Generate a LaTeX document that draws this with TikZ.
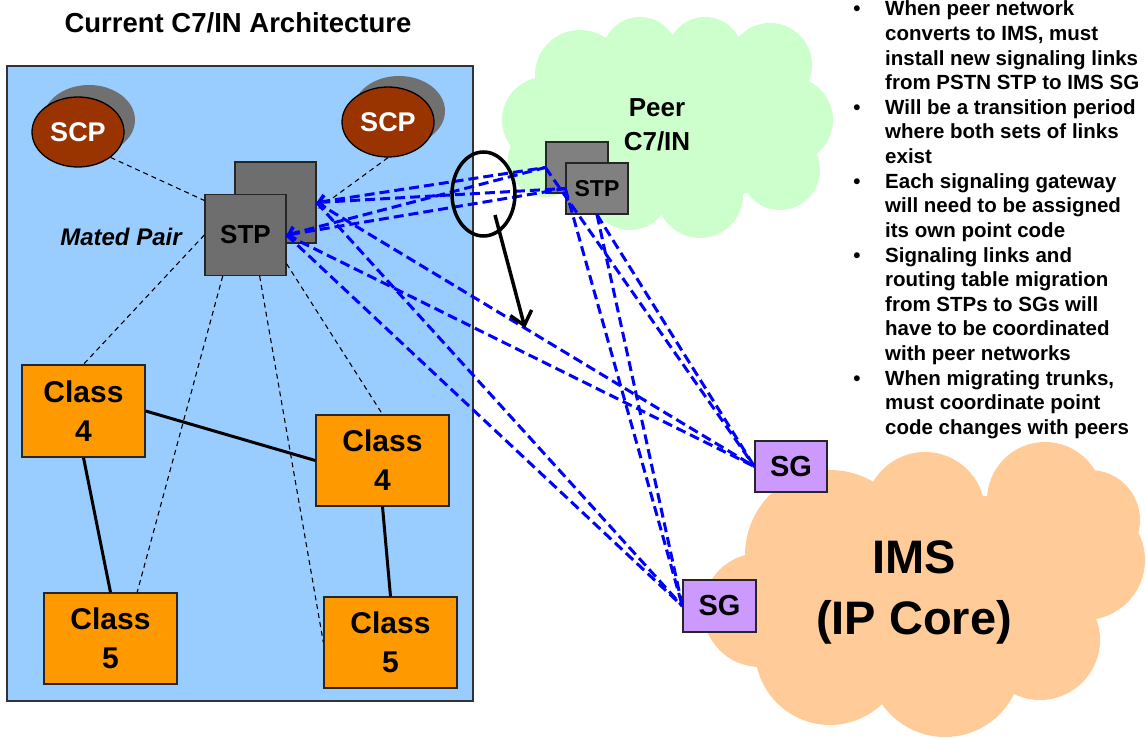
\documentclass[tikz,border=0pt]{standalone}
\usepackage{fontspec}
\setmainfont{Liberation Sans}
\usetikzlibrary{arrows.meta,shapes.geometric}
\definecolor{rectC}{HTML}{99CCFF}
\definecolor{orangeC}{HTML}{FF9900}
\definecolor{scpC}{HTML}{993300}
\definecolor{shadowC}{HTML}{707070}
\definecolor{stpC}{HTML}{6E6E6E}
\definecolor{peerstpC}{HTML}{808080}
\definecolor{sgC}{HTML}{CC99FF}
\definecolor{peerC}{HTML}{CCFFCC}
\definecolor{imsC}{HTML}{FFCC99}
\definecolor{sigC}{HTML}{0000FF}
\begin{document}
\begin{tikzpicture}[x=1pt,y=-1pt,
  box/.style={draw=black!85, line width=1.3pt, inner sep=0pt},
  stpbox/.style={box, fill=stpC, minimum width=81pt, minimum height=81pt, font=\bfseries\fontsize{26}{30}\selectfont},
  peerbox/.style={box, fill=peerstpC, minimum width=62pt, minimum height=51pt, font=\bfseries\fontsize{23}{27}\selectfont},
  classbox/.style={box, fill=orangeC, align=center, font=\bfseries\fontsize{30}{39}\selectfont},
  sgbox/.style={box, fill=sgC, minimum width=72pt, minimum height=51pt, font=\bfseries\fontsize{29}{33}\selectfont},
  scpnode/.style={ellipse, draw=black, line width=1.3pt, fill=scpC, minimum width=92pt, minimum height=70pt, inner sep=0pt, text=white, font=\bfseries\fontsize{27}{31}\selectfont},
  scpshadow/.style={ellipse, fill=shadowC, minimum width=92pt, minimum height=70pt, inner sep=0pt},
  sig/.style={draw=sigC, line width=3pt, dash pattern=on 10pt off 5pt},
  ctrl/.style={draw=black, line width=1.1pt, dash pattern=on 5pt off 4pt},
  link/.style={draw=black, line width=3pt},
  btext/.style={anchor=base west, inner sep=0pt, font=\bfseries\fontsize{20.5}{24.6}\selectfont},
  barb/.tip={Straight Barb[length=6pt,width=13pt]}
]
\useasboundingbox (0,0) rectangle (1146,738);
\clip (0,0) rectangle (1146,738);

% clouds
\fill[peerC] (545,120) circle[radius=43] (580,75) circle[radius=45] (640,55) circle[radius=38]
  (705,55) circle[radius=38] (770,65) circle[radius=42] (790,120) circle[radius=43]
  (780,170) circle[radius=40] (700,195) circle[radius=43] (630,190) circle[radius=40]
  (545,160) circle[radius=37] (670,130) ellipse[x radius=140,y radius=75];
\fill[imsC] (830,555) circle[radius=85] (760,610) circle[radius=57] (925,512) circle[radius=60]
  (1045,500) circle[radius=58] (1090,520) circle[radius=50] (1085,560) circle[radius=60]
  (1040,640) circle[radius=60] (945,660) circle[radius=77] (830,650) circle[radius=75]
  (930,590) ellipse[x radius=160,y radius=100];

% current network frame
\draw[fill=rectC, draw=black!80, line width=1.2pt] (7,66) rectangle (473,701);

\node[font=\bfseries\fontsize{27.5}{32}\selectfont] (title) at (238,22.5) {Current C7/IN Architecture};

% SCPs
\node[scpshadow] (scpLs) at (89,120) {};
\node[scpnode] (scpL) at (78,132) {SCP};
\node[scpshadow] (scpRs) at (399,111) {};
\node[scpnode] (scpR) at (388,122) {SCP};

% STP mated pair
\node[stpbox] (stpB) at (275.5,202.5) {};
\node[stpbox] (stpA) at (245.5,235) {STP};
\node[font=\bfseries\itshape\fontsize{24}{28}\selectfont] (mated) at (121,237) {Mated Pair};

% classes
\node[classbox, minimum width=123pt, minimum height=92pt] (c4L) at (83.5,411) {Class\\4};
\node[classbox, minimum width=133pt, minimum height=91pt] (c4R) at (382.5,460.5) {Class\\4};
\node[classbox, minimum width=133pt, minimum height=91pt] (c5L) at (110.5,638.5) {Class\\5};
\node[classbox, minimum width=133pt, minimum height=91pt] (c5R) at (390.5,642.5) {Class\\5};

% peer network
\node[font=\bfseries\fontsize{26}{34}\selectfont, align=center] (peerlbl) at (657,125) {Peer\\C7/IN};
\node[peerbox] (peerB) at (577,167.5) {};
\node[peerbox] (peerA) at (597,188.5) {STP};

% IMS
\node[font=\bfseries\fontsize{47}{60.5}\selectfont, align=center] (imslbl) at (914,592.4) {IMS\\(IP Core)};
\node[sgbox] (sgU) at (791,466.5) {SG};
\node[sgbox, minimum width=73pt, minimum height=52pt] (sgL) at (719.5,606) {SG};

% control (dashed black) links
\draw[ctrl] (scpL.-38) -- (stpA.140);
\draw[ctrl] (scpR.south) -- (stpB.-10);
\draw[ctrl] (stpA.west) -- (c4L.north);
\draw[ctrl] (stpA.-119) -- (c5L.60);
\draw[ctrl] (stpA.-71) -- (c5R.west);
\draw[ctrl] (stpA.-35) -- (c4R.north);

% trunks
\draw[link] (c4L.east) -- (c4R.west);
\draw[link] (c4L.south) -- (c5L.north);
\draw[link] (c4R.south) -- (c5R.north);

% signaling links
\draw[sig, barb-] (stpB.east) -- (peerB.west);
\draw[sig, barb-] (stpB.east) -- (peerA.west);
\draw[sig, barb-] (stpA.east) -- (peerB.west);
\draw[sig, barb-] (stpA.east) -- (peerA.west);
\draw[sig] (stpB.east) -- (sgU.west);
\draw[sig] (stpA.east) -- (sgU.west);
\draw[sig] (stpB.east) -- (sgL.west);
\draw[sig] (stpA.east) -- (sgL.west);
\draw[sig] (peerB.west) -- (sgU.west);
\draw[sig] (peerA.west) -- (sgL.west);
\draw[sig] (peerA.south) -- (sgU.west);
\draw[sig] (peerA.south) -- (sgL.west);

% magnifier
\node[ellipse, draw=black, line width=3.5pt, minimum width=63pt, minimum height=84pt, inner sep=0pt] (lens) at (483.5,194) {};
\coordinate (arrS) at (495,215);
\coordinate (arrE) at (525,328);
\draw[line width=3.5pt, -{Straight Barb[length=13pt,width=22pt]}] (arrS) -- (arrE);

% bullet text
\foreach \t [count=\i from 0] in {When peer network, {converts to IMS, must}, install new signaling links, from PSTN STP to IMS SG, Will be a transition period, where both sets of links, exist, Each signaling gateway, will need to be assigned, its own point code, Signaling links and, routing table migration, from STPs to SGs will, have to be coordinated, with peer networks, {When migrating trunks,}, must coordinate point, code changes with peers}
  \node[btext] (line\i) at (885,{16+24.6*\i}) {\t};
\foreach \k in {0,4,7,10,15}
  \node[btext, anchor=base] (dot\k) at (857,{16+24.6*\k}) {•};
\end{tikzpicture}
\end{document}
